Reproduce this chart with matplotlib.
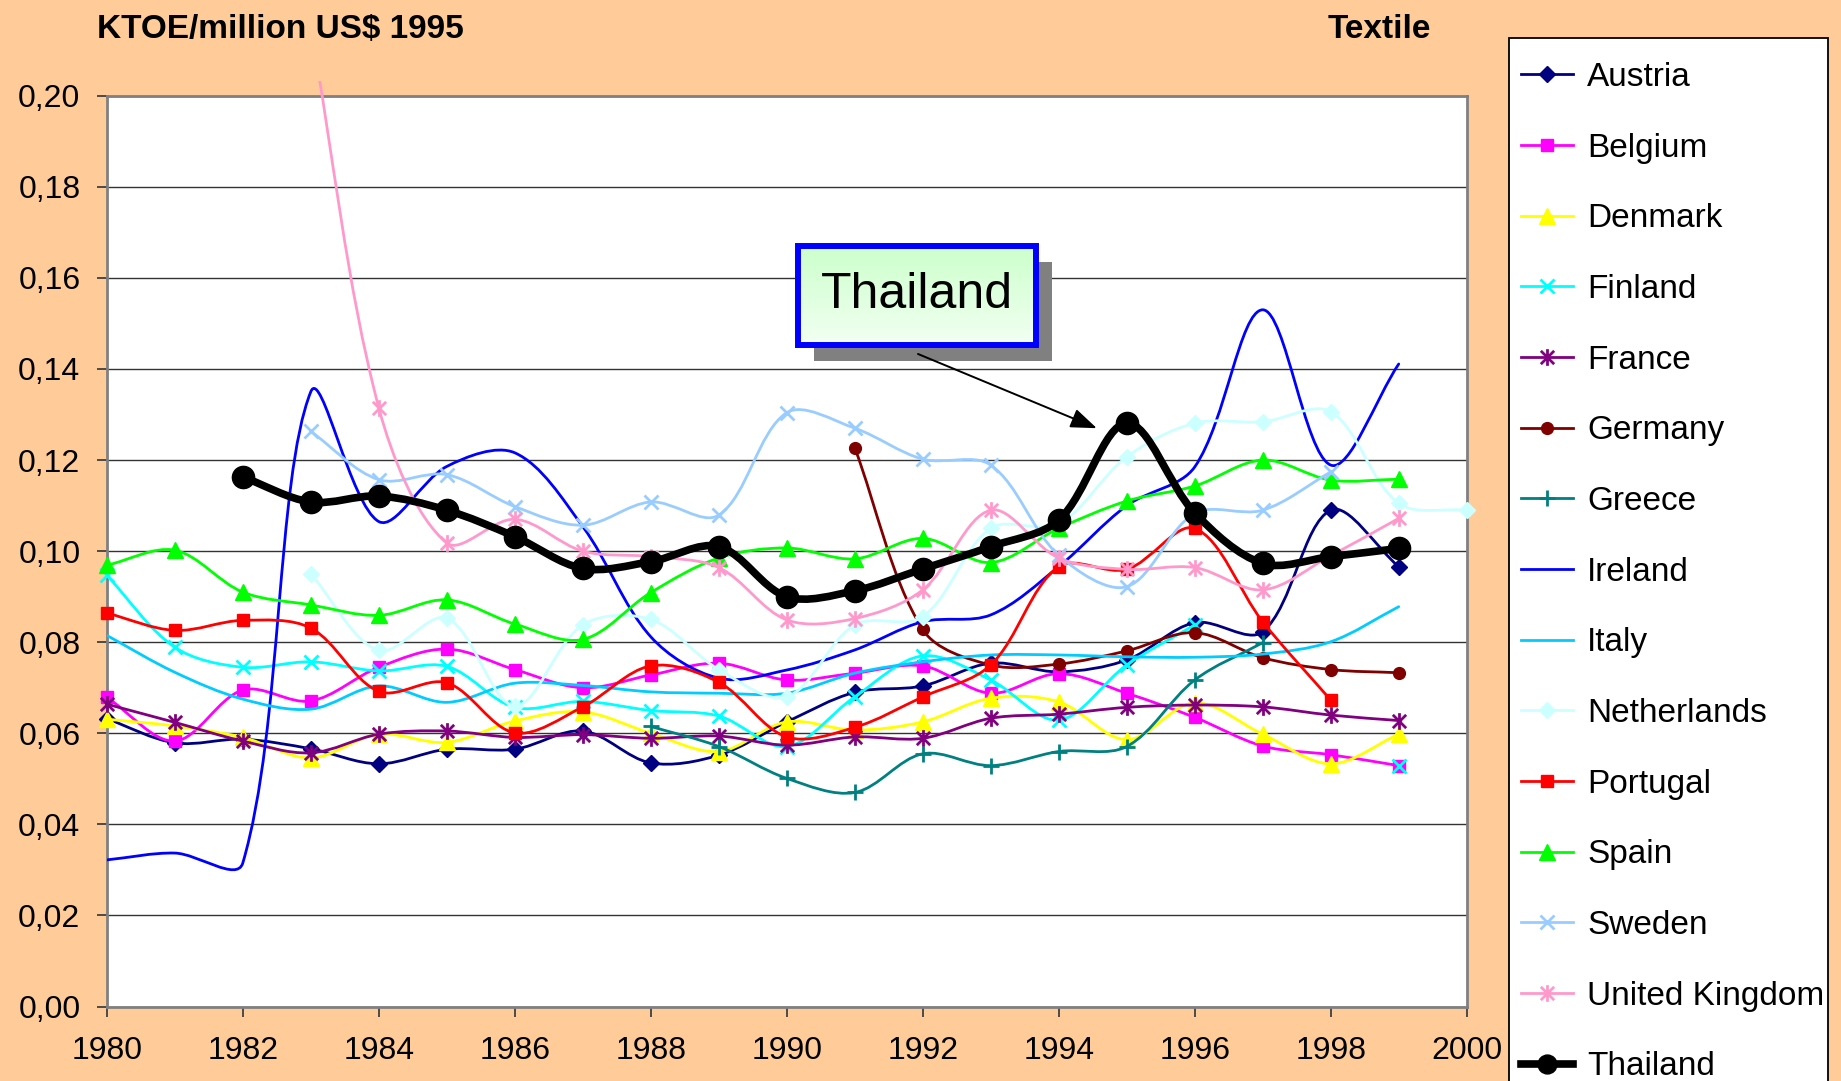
import numpy as np
import matplotlib
matplotlib.use("Agg")
import matplotlib.pyplot as plt
from matplotlib.path import Path
from matplotlib.patches import PathPatch, Rectangle
from matplotlib.lines import Line2D
from matplotlib.transforms import offset_copy


OUT_FILE = "out.png"

N = None
YEARS = list(range(1980, 2001))

AUSTRIA = [0.0632, 0.0579, 0.0587, 0.0566, 0.0533, 0.0565, 0.0565, 0.0605, 0.0535, 0.0552, 0.0625,
           0.0690, 0.0704, 0.0754, 0.0735, 0.0761, 0.0843, 0.0823, 0.1090, 0.0966, N]
BELGIUM = [0.0679, 0.0583, 0.0695, 0.0671, 0.0745, 0.0785, 0.0740, 0.0700, 0.0728, 0.0754, 0.0717,
           0.0732, 0.0748, 0.0688, 0.0731, 0.0688, 0.0635, 0.0572, 0.0553, 0.0529, N]
DENMARK = [0.0631, 0.0616, 0.0591, 0.0546, 0.0598, 0.0580, 0.0627, 0.0647, 0.0600, 0.0560, 0.0625,
           0.0607, 0.0625, 0.0677, 0.0669, 0.0586, 0.0667, 0.0598, 0.0533, 0.0598, N]
FINLAND = [0.0947, 0.0789, 0.0745, 0.0757, 0.0737, 0.0747, 0.0657, 0.0670, 0.0650, 0.0638, 0.0571,
           0.0680, 0.0770, 0.0717, 0.0629, 0.0750, 0.0838, N, N, 0.0528, N]
FRANCE = [0.0664, 0.0624, 0.0583, 0.0557, 0.0598, 0.0605, 0.0591, 0.0597, 0.0589, 0.0594, 0.0574,
          0.0592, 0.0589, 0.0633, 0.0642, 0.0657, 0.0662, 0.0658, 0.0640, 0.0628, N]
GERMANY = [N, N, N, N, N, N, N, N, N, N, N,
           0.1227, 0.0828, 0.0750, 0.0752, 0.0781, 0.0821, 0.0766, 0.0740, 0.0733, N]
GREECE = [N, N, N, N, N, N, N, N, 0.0615, 0.0571, 0.0501,
          0.0470, 0.0555, 0.0529, 0.0560, 0.0571, 0.0717, 0.0799, N, N, N]
IRELAND = [0.0322, 0.0337, 0.0315, 0.1350, 0.1065, 0.1186, 0.1216, 0.1054, 0.0812, 0.0721, 0.0739,
           0.0783, 0.0845, 0.0860, 0.0966, 0.1100, 0.1185, 0.1530, 0.1189, 0.1411, N]
ITALY = [0.0815, 0.0734, 0.0675, 0.0653, 0.0704, 0.0668, 0.0710, 0.0705, 0.0691, 0.0688, 0.0688,
         0.0732, 0.0757, 0.0772, 0.0772, 0.0768, 0.0767, 0.0774, 0.0801, 0.0878, N]
NETHERLANDS = [N, N, N, 0.0950, 0.0782, 0.0853, 0.0660, 0.0838, 0.0850, 0.0740, 0.0680,
               0.0838, 0.0856, 0.1050, 0.1060, 0.1207, 0.1281, 0.1284, 0.1306, 0.1105, 0.1090]
PORTUGAL = [0.0864, 0.0826, 0.0848, 0.0831, 0.0692, 0.0711, 0.0601, 0.0658, 0.0748, 0.0712, 0.0592,
            0.0613, 0.0680, 0.0750, 0.0966, 0.0960, 0.1050, 0.0845, 0.0673, N, N]
SPAIN = [0.0969, 0.1002, 0.0910, 0.0882, 0.0859, 0.0893, 0.0840, 0.0806, 0.0909, 0.0985, 0.1007,
         0.0983, 0.1028, 0.0975, 0.1050, 0.1110, 0.1143, 0.1200, 0.1156, 0.1158, N]
SWEDEN = [N, N, N, 0.1263, 0.1157, 0.1168, 0.1098, 0.1057, 0.1108, 0.1079, 0.1304,
          0.1270, 0.1202, 0.1189, 0.0991, 0.0922, 0.1083, 0.1090, 0.1174, N, N]
UNITED_KINGDOM = [N, N, N, 0.2150, 0.1315, 0.1018, 0.1070, 0.1000, 0.0988, 0.0964, 0.0849,
                  0.0852, 0.0915, 0.1090, 0.0985, 0.0960, 0.0964, 0.0915, 0.0990, 0.1072, N]
THAILAND = [N, N, 0.1163, 0.1108, 0.1121, 0.1090, 0.1032, 0.0962, 0.0977, 0.1010, 0.0900,
            0.0913, 0.0961, 0.1010, 0.1068, 0.1281, 0.1084, 0.0973, 0.0988, 0.1006, N]

SERIES = [
    ("Austria", AUSTRIA),
    ("Belgium", BELGIUM),
    ("Denmark", DENMARK),
    ("Finland", FINLAND),
    ("France", FRANCE),
    ("Germany", GERMANY),
    ("Greece", GREECE),
    ("Ireland", IRELAND),
    ("Italy", ITALY),
    ("Netherlands", NETHERLANDS),
    ("Portugal", PORTUGAL),
    ("Spain", SPAIN),
    ("Sweden", SWEDEN),
    ("United Kingdom", UNITED_KINGDOM),
    ("Thailand", THAILAND),
]

X_TICKS = [1980, 1982, 1984, 1986, 1988, 1990, 1992, 1994, 1996, 1998, 2000]
Y_TICKS = [0.00, 0.02, 0.04, 0.06, 0.08, 0.10, 0.12, 0.14, 0.16, 0.18, 0.20]
Y_TICK_LABELS = ["0,00", "0,02", "0,04", "0,06", "0,08", "0,10",
                 "0,12", "0,14", "0,16", "0,18", "0,20"]

# Excel style asterisk: an x with a vertical bar through it
ASTERISK = Path(
    [(-1, -1), (1, 1), (-1, 1), (1, -1), (0, -1.25), (0, 1.25)],
    [Path.MOVETO, Path.LINETO, Path.MOVETO, Path.LINETO, Path.MOVETO, Path.LINETO],
)

STYLES = {
    "Austria": dict(color="#000080", marker="D", ms=8.5),
    "Belgium": dict(color="#FF00FF", marker="s", ms=9),
    "Denmark": dict(color="#FFFF00", marker="^", ms=12),
    "Finland": dict(color="#00FFFF", marker="x", ms=10, mew=2.0),
    "France": dict(color="#800080", marker=ASTERISK, ms=12, mew=2.0),
    "Germany": dict(color="#800000", marker="o", ms=8.5),
    "Greece": dict(color="#008080", marker="+", ms=12, mew=2.0),
    "Ireland": dict(color="#0000FF", marker=None, ms=0),
    "Italy": dict(color="#00CCFF", marker=None, ms=0),
    "Netherlands": dict(color="#CCFFFF", marker="D", ms=8.5),
    "Portugal": dict(color="#FF0000", marker="s", ms=9),
    "Spain": dict(color="#00FF00", marker="^", ms=12),
    "Sweden": dict(color="#99CCFF", marker="x", ms=10, mew=2.0),
    "United Kingdom": dict(color="#FF99CC", marker=ASTERISK, ms=12, mew=2.0),
    "Thailand": dict(color="#000000", marker="o", ms=16, lw=5.5),
}

BG_COLOR = "#FFCC99"
FONT = "Liberation Sans"
FIG_W, FIG_H = 1841, 1081


def smooth_path(ax, xs, ys):
    # bezier through the points, tangents scaled by chord length (as Excel's smoothed line)
    to_disp = ax.transData
    pts = to_disp.transform(np.column_stack([xs, ys]).astype(float))
    n = len(pts)

    def tangent(i):
        prev = pts[max(i - 1, 0)]
        nxt = pts[min(i + 1, n - 1)]
        return nxt - prev, np.hypot(*(pts[i] - prev)), np.hypot(*(nxt - pts[i]))

    verts = [pts[0]]
    codes = [Path.MOVETO]
    for i in range(n - 1):
        t1, a1, b1 = tangent(i)
        t2, a2, b2 = tangent(i + 1)
        c1 = pts[i] + t1 * b1 / (3.0 * (a1 + b1))
        c2 = pts[i + 1] - t2 * a2 / (3.0 * (a2 + b2))
        verts += [c1, c2, pts[i + 1]]
        codes += [Path.CURVE4] * 3
    verts = to_disp.inverted().transform(np.array(verts))
    return Path(verts, codes)


def runs(values):
    run = []
    for yr, v in zip(YEARS, values):
        if v is None:
            if run:
                yield run
            run = []
        else:
            run.append((yr, v))
    if run:
        yield run


def draw_series(ax):
    line_clip = Rectangle((0, 0), 1, 1.016, transform=ax.transAxes)
    marker_clip = Rectangle((-0.03, -0.03), 1.06, 1.046, transform=ax.transAxes)
    handles = []
    for z, (name, values) in enumerate(SERIES):
        st = STYLES[name]
        lw = st.get("lw", 2.0)
        zorder = 3 + z * 0.1

        for run in runs(values):
            if len(run) < 2:
                continue
            xs = [p[0] for p in run]
            ys = [p[1] for p in run]
            patch = PathPatch(smooth_path(ax, xs, ys), fill=False, edgecolor=st["color"],
                              lw=lw, capstyle="round", joinstyle="round", zorder=zorder)
            ax.add_patch(patch)
            patch.set_clip_path(line_clip)

        if st["marker"] is not None:
            y = np.array([np.nan if v is None else v for v in values], dtype=float)
            pts, = ax.plot(YEARS, y, linestyle="none", marker=st["marker"], ms=st["ms"],
                           mfc=st["color"], mec=st["color"], mew=st.get("mew", 1.0),
                           zorder=zorder + 0.05)
            pts.set_clip_path(marker_clip)

        handles.append(Line2D([], [], color=st["color"], lw=lw,
                              marker=st["marker"] if st["marker"] is not None else "None",
                              ms=st["ms"] * (0.85 if name == "Thailand" else 1.0),
                              mfc=st["color"], mec=st["color"], mew=st.get("mew", 1.0),
                              label=name))
    return handles


def draw_callout(ax, fig):
    x0, x1 = 1990.17, 1993.66
    y0, y1 = 0.1453, 0.1670

    shadow = Rectangle((x0, y0), x1 - x0, y1 - y0, facecolor="#808080", edgecolor="none",
                       transform=offset_copy(ax.transData, fig, x=16, y=-16, units="dots"),
                       zorder=20, clip_on=False)
    ax.add_patch(shadow)

    grad = np.linspace(0, 1, 64).reshape(-1, 1)
    top = np.array([0.80, 1.0, 0.80])
    bottom = np.array([0.95, 1.0, 0.95])
    img = top + (bottom - top) * grad[:, :, None]
    ax.imshow(img, extent=[x0, x1, y0, y1], origin="upper", aspect="auto",
              zorder=21, interpolation="bilinear")

    ax.add_patch(Rectangle((x0, y0), x1 - x0, y1 - y0, fill=False, edgecolor="#0000FF",
                           lw=4.3, joinstyle="miter", zorder=22))
    ax.text((x0 + x1) / 2, (y0 + y1) / 2, "Thailand", ha="center", va="center",
            fontsize=36, color="black", zorder=23)

    ax.annotate("", xy=(1994.56, 0.1270), xytext=(1991.93, 0.1433),
                arrowprops=dict(arrowstyle="-|>,head_length=0.8,head_width=0.3",
                                color="black", lw=1.4, mutation_scale=20,
                                shrinkA=0, shrinkB=0),
                zorder=24)


def main():
    plt.rcParams["font.family"] = [FONT, "DejaVu Sans"]

    fig = plt.figure(figsize=(FIG_W / 100, FIG_H / 100), dpi=100, facecolor=BG_COLOR)
    ax = fig.add_axes([0.0580, 0.0689, 0.7387, 0.8425])
    ax.set_facecolor("white")
    ax.set_xlim(1980, 2000)
    ax.set_ylim(0, 0.20)

    handles = draw_series(ax)
    draw_callout(ax, fig)

    ax.set_xlim(1980, 2000)
    ax.set_ylim(0, 0.20)
    ax.set_xticks(X_TICKS)
    ax.set_xticklabels([str(t) for t in X_TICKS])
    ax.set_yticks(Y_TICKS)
    ax.set_yticklabels(Y_TICK_LABELS)
    ax.tick_params(axis="both", direction="out", length=7, width=1.3, color="#404040",
                   labelsize=23)
    ax.tick_params(axis="x", pad=14)
    ax.tick_params(axis="y", pad=12)

    ax.yaxis.grid(True, color="#333333", lw=1.0)
    ax.set_axisbelow(True)
    for sp in ax.spines.values():
        sp.set_color("#808080")
        sp.set_linewidth(2.0)

    fig.text(97 / FIG_W, 1 - 38 / FIG_H, "KTOE/million US$ 1995", fontsize=24,
             fontweight="bold", ha="left", va="baseline")
    fig.text(1328 / FIG_W, 1 - 38 / FIG_H, "Textile", fontsize=24,
             fontweight="bold", ha="left", va="baseline")

    # legend box runs off the bottom of the chart, so the frame is drawn separately
    box_left, box_top, box_right = 1508.7, 37.6, 1828.0
    frame = Rectangle((box_left / FIG_W, -0.02), (box_right - box_left) / FIG_W,
                      1.02 - box_top / FIG_H, transform=fig.transFigure,
                      facecolor="white", edgecolor="black", lw=1.3, zorder=1)
    fig.add_artist(frame)

    leg = fig.legend(handles=handles, loc="upper left",
                     bbox_to_anchor=(1520.5 / FIG_W, 1 - 62 / FIG_H), borderaxespad=0,
                     fontsize=24, frameon=False, handlelength=1.58,
                     handletextpad=0.42, labelspacing=1.19, borderpad=0)
    leg.set_zorder(2)

    fig.savefig(OUT_FILE, dpi=100, facecolor=BG_COLOR)
    plt.close(fig)
    print(f"Saved plot: {OUT_FILE}")


if __name__ == "__main__":
    main()
